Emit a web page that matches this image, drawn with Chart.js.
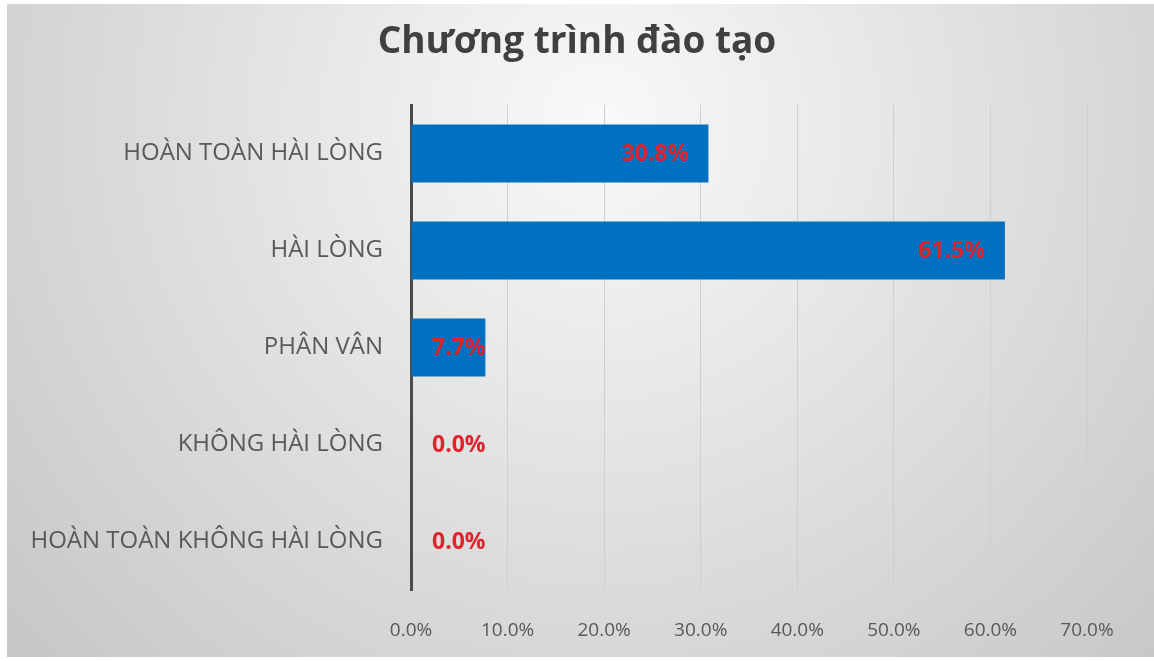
<!DOCTYPE html>
<html>
<head>
<meta charset="utf-8">
<script src="https://cdn.jsdelivr.net/npm/chart.js@4"></script>
<style>
  html, body { margin: 0; padding: 0; background: #fff; }
  #wrap { width: 1154px; height: 661px; position: relative; }
</style>
</head>
<body>
<div id="wrap"><canvas id="chart"></canvas></div>
<script>
const chartTitle = 'Chương trình đào tạo';
const categories = [
    'HOÀN TOÀN HÀI LÒNG',
    'HÀI LÒNG',
    'PHÂN VÂN',
    'KHÔNG HÀI LÒNG',
    'HOÀN TOÀN KHÔNG HÀI LÒNG'
];
const percentValues = [30.8, 61.5, 7.7, 0.0, 0.0];
const axisMax = 70;
const axisStep = 10;

const FONT = '"Open Sans", "Noto Sans", sans-serif';

// nền xám kiểu Excel (gradient tỏa tròn)
const backgroundPlugin = {
    id: 'bg',
    beforeDraw(chart){
        const ctx = chart.ctx;
        ctx.save();
        ctx.fillStyle = '#ffffff';
        ctx.fillRect(0, 0, chart.width, chart.height);
        const g = ctx.createRadialGradient(600, 120, 0, 600, 120, 830);
        g.addColorStop(0, '#f9f9f9');
        g.addColorStop(1, '#c4c4c4');
        ctx.fillStyle = g;
        ctx.fillRect(7, 4, chart.width - 7, chart.height - 8);
        ctx.restore();
    }
};

// tiêu đề căn giữa toàn bộ khung (không theo vùng vẽ)
const titlePlugin = {
    id: 'centerTitle',
    afterDraw(chart){
        const ctx = chart.ctx;
        ctx.save();
        ctx.font = 'bold 37px ' + FONT;
        ctx.fillStyle = '#404040';
        ctx.textAlign = 'center';
        ctx.textBaseline = 'middle';
        ctx.fillText(chartTitle, chart.width / 2, 42);
        ctx.restore();
    }
};

// nhãn % màu đỏ ở cuối thanh
const valueLabelPlugin = {
    id: 'valueLabels',
    afterDatasetsDraw(chart){
        const ctx = chart.ctx;
        const meta = chart.getDatasetMeta(0);
        const base = chart.scales.x.getPixelForValue(0);
        ctx.save();
        ctx.font = 'bold 23px ' + FONT;
        ctx.fillStyle = '#e3232c';
        ctx.textBaseline = 'middle';
        ctx.textAlign = 'right';
        meta.data.forEach((bar, i) => {
            const txt = percentValues[i].toFixed(1) + '%';
            const w = ctx.measureText(txt).width;
            const right = Math.max(bar.x - 20, base + 21 + w);
            ctx.fillText(txt, right, bar.y + 1);
        });
        ctx.restore();
    }
};

new Chart(document.getElementById('chart'), {
    type: 'bar',
    data: {
        labels: categories,
        datasets: [{
            data: percentValues,
            backgroundColor: '#0070c0',
            borderWidth: 0,
            barPercentage: 0.6,
            categoryPercentage: 1.0
        }]
    },
    options: {
        indexAxis: 'y',
        responsive: true,
        maintainAspectRatio: false,
        animation: false,
        layout: {
            padding: { top: 105, right: 67, bottom: 0, left: 0 }
        },
        scales: {
            x: {
                min: 0,
                max: axisMax,
                afterFit(scale){ scale.height = 71; },
                ticks: {
                    stepSize: axisStep,
                    padding: 29,
                    color: '#595959',
                    font: { family: FONT, size: 19 },
                    callback: v => v.toFixed(1) + '%'
                },
                grid: {
                    color: '#cfcfcf',
                    lineWidth: 1,
                    drawTicks: false
                },
                border: { display: false }
            },
            y: {
                afterFit(scale){ scale.width = 411; },
                ticks: {
                    padding: 20,
                    color: '#595959',
                    font: { family: FONT, size: 24 }
                },
                grid: { display: false },
                border: { display: true, color: '#4a4a4a', width: 3 }
            }
        },
        plugins: {
            legend: { display: false },
            tooltip: { enabled: false },
            title: { display: false }
        }
    },
    plugins: [backgroundPlugin, valueLabelPlugin, titlePlugin]
});
</script>
</body>
</html>
